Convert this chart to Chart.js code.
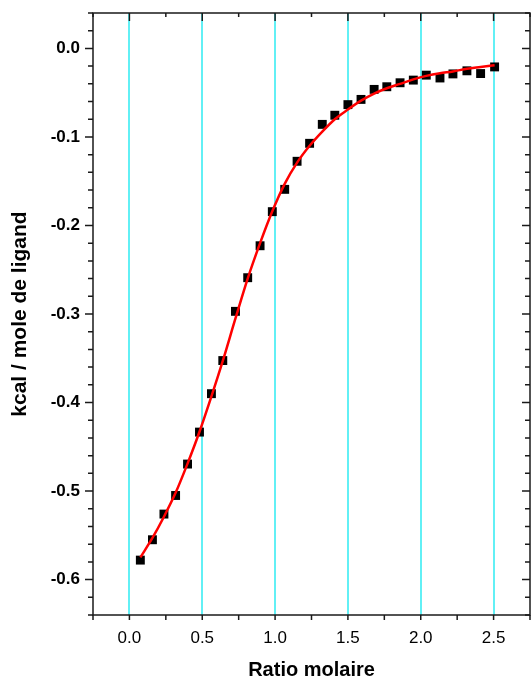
<!DOCTYPE html>
<html>
<head>
<meta charset="utf-8">
<title>Ratio molaire</title>
<script src="https://cdn.jsdelivr.net/npm/chart.js@4/dist/chart.umd.min.js"></script>
<style>
    html, body { margin: 0; padding: 0; background: #fff; }
    #wrap { width: 531px; height: 681px; position: relative; }
</style>
</head>
<body>
<div id="wrap"><canvas id="itc"></canvas></div>
<script>
// molar ratio of each injection
const ratio = [0.075, 0.158, 0.237, 0.317, 0.399, 0.481, 0.563, 0.641, 0.728, 0.812,
               0.897, 0.981, 1.066, 1.151, 1.237, 1.324, 1.410, 1.500, 1.590, 1.680,
               1.767, 1.858, 1.949, 2.038, 2.132, 2.221, 2.317, 2.411, 2.507];
// integrated heats (kcal / mole de ligand)
const heat = [-0.578, -0.555, -0.526, -0.505, -0.4695, -0.4334, -0.390, -0.3526, -0.297, -0.259,
              -0.2229, -0.1844, -0.1592, -0.1275, -0.1072, -0.0858, -0.0755, -0.0635, -0.0576, -0.0463,
              -0.0433, -0.0388, -0.0358, -0.0302, -0.0334, -0.0288, -0.0253, -0.0284, -0.0209];
// fitted curve read at the same ratios
const fit = [-0.575, -0.553, -0.529, -0.502, -0.469, -0.433, -0.393, -0.353, -0.305, -0.260,
             -0.220, -0.184, -0.153, -0.129, -0.110, -0.094, -0.080, -0.069, -0.059, -0.051,
             -0.045, -0.040, -0.035, -0.031, -0.028, -0.026, -0.023, -0.021, -0.019];

const xLabels = ['0.0', '0.5', '1.0', '1.5', '2.0', '2.5'];
const yLabels = ['0.0', '-0.1', '-0.2', '-0.3', '-0.4', '-0.5', '-0.6'];

const CYAN = 'rgb(98, 240, 245)';
const FONT = '"Liberation Sans", Arial, sans-serif';

function isMajor(v, step) {
    const k = v / step;
    return Math.abs(k - Math.round(k)) < 1e-6;
}

// no extra room for the (empty) end labels
function noPad(s) {
    s.paddingTop = 0; s.paddingBottom = 0;
    s.paddingLeft = 0; s.paddingRight = 0;
}

// box frame + major/minor tick marks on all four sides
const frameTicks = {
    id: 'frameTicks',
    afterDatasetsDraw(chart) {
        const { ctx, chartArea: a, scales: { x, y } } = chart;
        ctx.save();
        ctx.strokeStyle = '#1a1a1a';
        ctx.lineWidth = 1.5;
        ctx.beginPath();
        x.ticks.forEach(t => {
            const px = x.getPixelForValue(t.value);
            const major = isMajor(t.value, 0.5);
            ctx.moveTo(px, a.bottom); ctx.lineTo(px, a.bottom + 5);
            ctx.moveTo(px, a.top); ctx.lineTo(px, a.top + (major ? 8 : 4));
        });
        y.ticks.forEach(t => {
            const py = y.getPixelForValue(t.value);
            const major = isMajor(t.value, 0.1);
            ctx.moveTo(a.left, py); ctx.lineTo(a.left - (major ? 8 : 5), py);
            ctx.moveTo(a.right, py); ctx.lineTo(a.right - (major ? 8 : 5), py);
        });
        ctx.stroke();
        ctx.strokeRect(a.left, a.top, a.right - a.left, a.bottom - a.top);
        ctx.restore();
    }
};

new Chart(document.getElementById('itc'), {
    type: 'scatter',
    data: {
        datasets: [
            {
                label: 'fit',
                type: 'line',
                data: ratio.map((r, i) => ({ x: r, y: fit[i] })),
                borderColor: '#ff0000',
                borderWidth: 2.5,
                pointRadius: 0,
                fill: false,
                cubicInterpolationMode: 'monotone',
                order: 0
            },
            {
                label: 'data',
                data: ratio.map((r, i) => ({ x: r, y: heat[i] })),
                pointStyle: 'rect',
                pointRadius: 6.3,
                pointBorderWidth: 0,
                backgroundColor: '#000',
                borderColor: '#000',
                order: 1
            }
        ]
    },
    options: {
        responsive: true,
        maintainAspectRatio: false,
        animation: false,
        devicePixelRatio: 1,
        layout: { autoPadding: false, padding: { top: 13, right: 1, left: 0, bottom: 0 } },
        plugins: {
            legend: { display: false },
            tooltip: { enabled: false }
        },
        scales: {
            x: {
                type: 'linear',
                min: -0.25,
                max: 2.75,
                afterFit: s => { s.height = 66; noPad(s); },
                ticks: {
                    stepSize: 0.25,
                    autoSkip: false,
                    maxRotation: 0,
                    padding: 13,
                    color: '#000',
                    font: { family: FONT, size: 17 },
                    callback: v => isMajor(v, 0.5) && v >= 0 ? xLabels[Math.round(v / 0.5)] : ''
                },
                grid: {
                    drawTicks: false,
                    lineWidth: 2,
                    color: c => (c.tick && isMajor(c.tick.value, 0.5) && c.tick.value >= 0) ? CYAN : 'rgba(0,0,0,0)'
                },
                border: { display: false },
                title: {
                    display: true,
                    text: 'Ratio molaire',
                    color: '#000',
                    font: { family: FONT, size: 20, weight: 'bold', lineHeight: 1 },
                    padding: { top: 0, bottom: 1 }
                }
            },
            y: {
                type: 'linear',
                min: -0.64,
                max: 0.04,
                afterFit: s => { s.width = 93; noPad(s); },
                ticks: {
                    stepSize: 0.02,
                    autoSkip: false,
                    padding: 13,
                    color: '#000',
                    font: { family: FONT, size: 17, weight: 'bold' },
                    callback: v => isMajor(v, 0.1) && v <= 0 ? yLabels[Math.round(-v / 0.1)] : ''
                },
                grid: { display: false, drawTicks: false },
                border: { display: false },
                title: {
                    display: true,
                    text: 'kcal / mole de ligand',
                    color: '#000',
                    font: { family: FONT, size: 21, weight: 'bold', lineHeight: 1 },
                    padding: { top: 10, bottom: 0 }
                }
            }
        }
    },
    plugins: [frameTicks]
});
</script>
</body>
</html>
